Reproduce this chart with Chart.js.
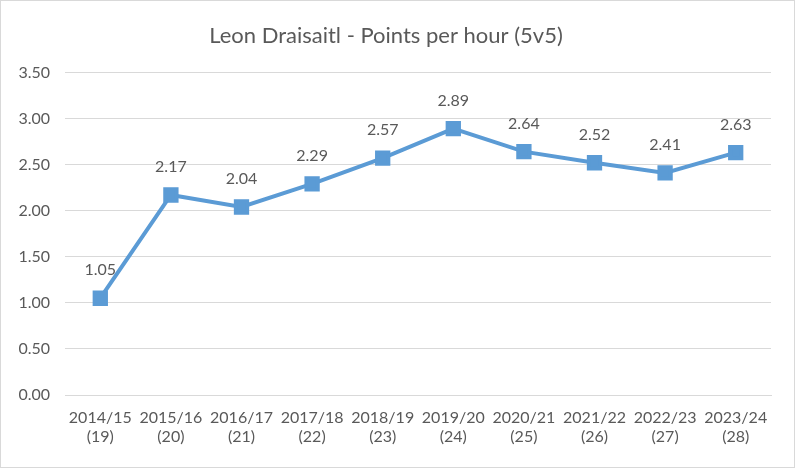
<!DOCTYPE html>
<html>
<head>
<meta charset="utf-8">
<script src="https://cdn.jsdelivr.net/npm/chart.js@4"></script>
<style>
  html, body { margin: 0; padding: 0; background: #fff; }
  #wrap { width: 795px; height: 468px; box-sizing: border-box; border: 1px solid #d9d9d9; }
  canvas { display: block; }
</style>
</head>
<body>
<div id="wrap"><canvas id="c" width="793" height="466"></canvas></div>
<script>
// seasons (age)
const seasons = ['2014/15','2015/16','2016/17','2017/18','2018/19','2019/20','2020/21','2021/22','2022/23','2023/24'];
const ages = ['(19)','(20)','(21)','(22)','(23)','(24)','(25)','(26)','(27)','(28)'];
const pointsPerHour = [1.05, 2.17, 2.04, 2.29, 2.57, 2.89, 2.64, 2.52, 2.41, 2.63];
const yTicks = [0, 0.5, 1, 1.5, 2, 2.5, 3, 3.5];

const FONT = 'Lato, "Open Sans", sans-serif';
const TXT = '#595959';

// value labels above each point
const valueLabels = {
  id: 'valueLabels',
  afterDatasetsDraw(chart) {
    const ctx = chart.ctx;
    const meta = chart.getDatasetMeta(0);
    ctx.save();
    ctx.font = '16px ' + FONT;
    ctx.fillStyle = TXT;
    ctx.textAlign = 'center';
    ctx.textBaseline = 'middle';
    meta.data.forEach((pt, i) => {
      ctx.fillText(pointsPerHour[i].toFixed(2), pt.x, pt.y - 28);
    });
    ctx.restore();
  }
};

new Chart(document.getElementById('c'), {
  type: 'line',
  data: {
    labels: seasons.map((s, i) => [s, ages[i]]),
    datasets: [{
      data: pointsPerHour,
      borderColor: '#5b9bd5',
      backgroundColor: '#5b9bd5',
      borderWidth: 4,
      pointStyle: 'rect',
      pointRadius: 8,
      pointHoverRadius: 8,
      tension: 0
    }]
  },
  options: {
    responsive: false,
    animation: false,
    layout: { padding: { left: 0, right: 23, top: 0, bottom: 14 } },
    plugins: {
      legend: { display: false },
      tooltip: { enabled: false },
      title: {
        display: true,
        text: 'Leon Draisaitl - Points per hour (5v5)',
        color: TXT,
        font: { family: FONT, size: 22, weight: 'normal' },
        padding: { top: 22, bottom: 23 }
      }
    },
    scales: {
      x: {
        offset: true,
        grid: { display: false },
        border: { color: '#d9d9d9', width: 1 },
        ticks: { color: TXT, font: { family: FONT, size: 16, lineHeight: 1.15 }, maxRotation: 0, autoSkip: false, padding: 6 },
        afterFit(s) { s.height = 58; }
      },
      y: {
        min: 0, max: 3.5,
        afterBuildTicks(s) { s.ticks = yTicks.map(v => ({ value: v })); },
        grid: { color: '#d9d9d9', lineWidth: 1, drawTicks: false },
        border: { display: false },
        ticks: { color: TXT, font: { family: FONT, size: 16 }, padding: 15, callback: v => v.toFixed(2) },
        afterFit(s) { s.width = 64; }
      }
    }
  },
  plugins: [valueLabels]
});
</script>
</body>
</html>
